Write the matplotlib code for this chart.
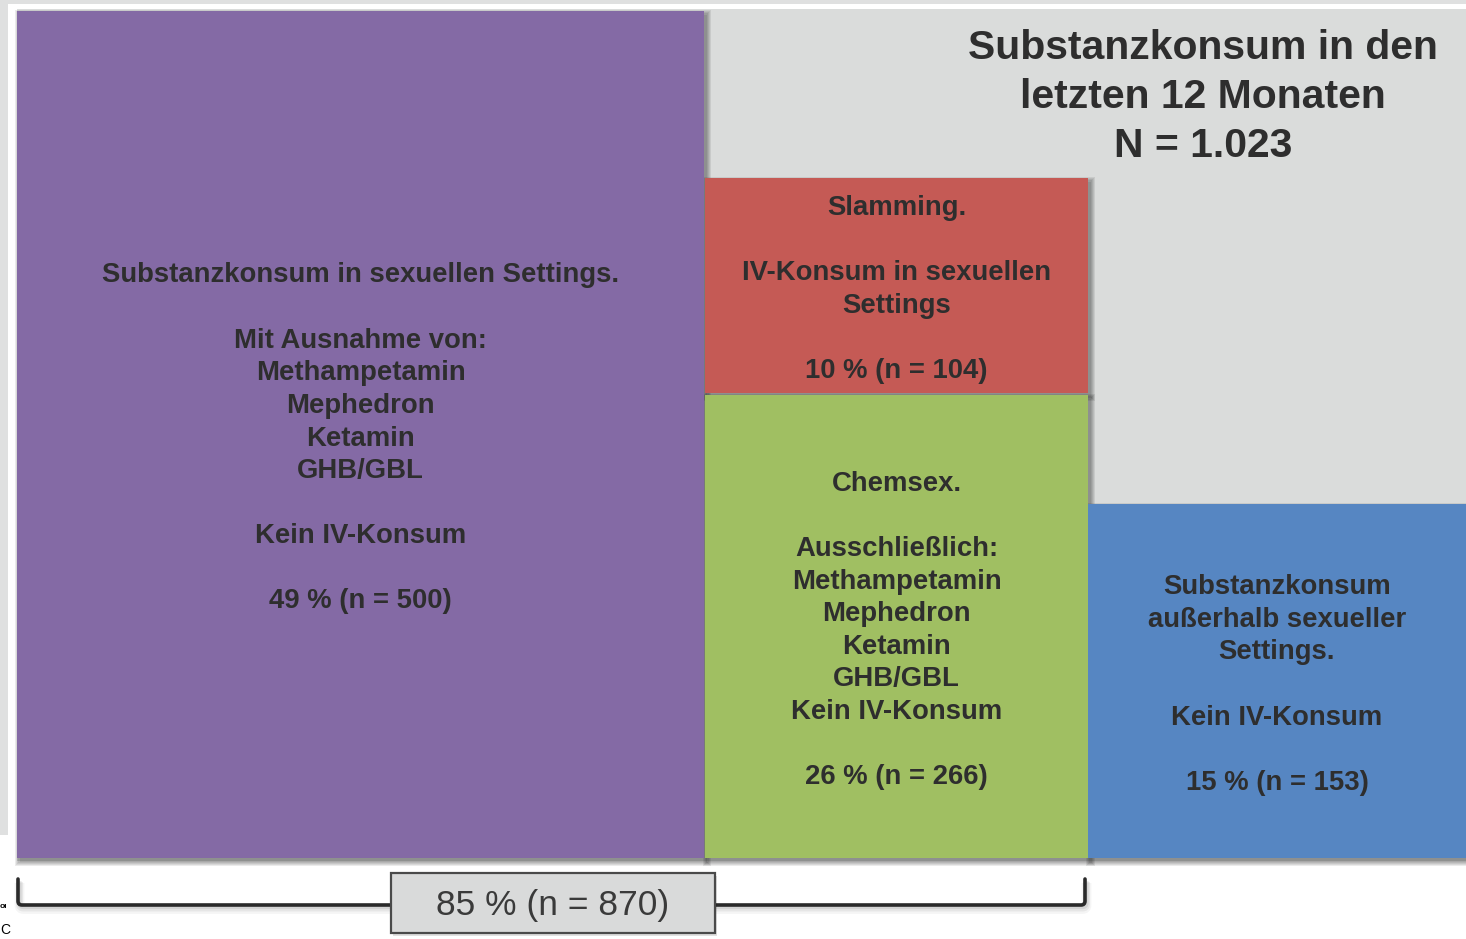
import matplotlib
matplotlib.use("Agg")
import matplotlib.pyplot as plt
from matplotlib.patches import Rectangle
from matplotlib.path import Path
from matplotlib.patches import PathPatch

# ---- data ---------------------------------------------------------------
total_n = 1023
group_counts = [500, 104, 266, 153]            # sexual settings, slamming, chemsex, outside
group_colors = ["#846aa5", "#c55a55", "#a0bf62", "#5686c2"]
group_headers = [
    ["Substanzkonsum in sexuellen Settings.", "",
     "Mit Ausnahme von:", "Methampetamin", "Mephedron", "Ketamin", "GHB/GBL", "",
     "Kein IV-Konsum", ""],
    ["Slamming.", "", "IV-Konsum in sexuellen", "Settings", ""],
    ["Chemsex.", "", "Ausschließlich:", "Methampetamin", "Mephedron", "Ketamin",
     "GHB/GBL", "Kein IV-Konsum", ""],
    ["Substanzkonsum", "außerhalb sexueller", "Settings.", "", "Kein IV-Konsum", ""],
]
sexual_groups = [0, 1, 2]                      # groups joined by the bracket
title_lines = ["Substanzkonsum in den", "letzten 12 Monaten"]


def pct_label(n):
    return f"{round(100 * n / total_n):d} % (n = {n})"


def german_thousands(n):
    return f"{n:,}".replace(",", ".")


# ---- layout (pixel coordinates, y downward) ------------------------------
W, H = 1466, 939
boxes = [                      # x0, y0, x1, y1
    (17, 11, 704, 858),
    (705, 178, 1088, 393),
    (705, 395, 1088, 858),
    (1088, 504, 1466, 858),
]
TEXT = "#2e2e2e"
BODY_FS = 19.8
LINE_STEP = 32.6

fig = plt.figure(figsize=(W / 100, H / 100), dpi=100)
fig.patch.set_facecolor("white")
ax = fig.add_axes([0, 0, 1, 1])
ax.set_xlim(0, W)
ax.set_ylim(H, 0)
ax.axis("off")

# framing background
ax.add_patch(Rectangle((0, 0), W, 835, facecolor="#dfe0e0", edgecolor="none", zorder=0))
ax.add_patch(Rectangle((8, 4), W, 860, facecolor="white", edgecolor="none", zorder=0.5))
ax.add_patch(Rectangle((17, 9), W, 852, facecolor="#dadcdb", edgecolor="none", zorder=1))


def soft_shadow(x0, y0, x1, y1, z, dx=2.5, dy=3.5, layers=5):
    for k in range(layers):
        grow = k * 1.2
        ax.add_patch(Rectangle((x0 + dx - grow, y0 + dy - grow),
                               (x1 - x0) + 2 * grow, (y1 - y0) + 2 * grow,
                               facecolor="black", edgecolor="none",
                               alpha=0.08, zorder=z))


def draw_lines(lines, cx, cy, step, fs, weight="bold", dy=4):
    n = len(lines)
    top = cy - (n - 1) * step / 2 + dy
    for i, line in enumerate(lines):
        if line:
            ax.text(cx, top + i * step, line, ha="center", va="center",
                    fontsize=fs, fontweight=weight, color=TEXT,
                    family="Liberation Sans", zorder=10)


for (x0, y0, x1, y1), color, header, n in zip(boxes, group_colors,
                                               group_headers, group_counts):
    soft_shadow(x0, y0, x1, y1, z=2)
    ax.add_patch(Rectangle((x0, y0), x1 - x0, y1 - y0, facecolor=color,
                           edgecolor="none", zorder=3))
    draw_lines(header + [pct_label(n)], (x0 + x1) / 2, (y0 + y1) / 2,
               LINE_STEP, BODY_FS)

# title in the upper right
draw_lines(title_lines + [f"N = {german_thousands(total_n)}"], 1203, 93, 49, 29.4)

# bracket below the sexual-setting groups
bx0 = boxes[sexual_groups[0]][0] + 1
bx1 = boxes[sexual_groups[-1]][2] - 3
by_top, by_bot, r = 879, 905, 4
verts = [(bx0, by_top), (bx0, by_bot - r), (bx0, by_bot), (bx0 + r, by_bot),
         (bx1 - r, by_bot), (bx1, by_bot), (bx1, by_bot - r), (bx1, by_top)]
codes = [Path.MOVETO, Path.LINETO, Path.CURVE3, Path.CURVE3,
         Path.LINETO, Path.CURVE3, Path.CURVE3, Path.LINETO]
for k, a in enumerate([0.08, 0.06, 0.04]):
    shifted = [(vx + 1.5, vy + 2 + k) for vx, vy in verts]
    ax.add_patch(PathPatch(Path(shifted, codes), facecolor="none",
                           edgecolor="black", lw=3 + 2 * k, alpha=a, zorder=4))
ax.add_patch(PathPatch(Path(verts, codes), facecolor="none", edgecolor="#2a2a2a",
                       lw=2.6, capstyle="round", zorder=5))

sexual_n = sum(group_counts[i] for i in sexual_groups)
ax.add_patch(Rectangle((393, 876), 324, 60, facecolor="black", edgecolor="none",
                       alpha=0.12, zorder=5.5))
ax.add_patch(Rectangle((391, 873), 324, 60, facecolor="#d9dada", edgecolor="#4a4a4a",
                       lw=1.6, zorder=6))
ax.text(553, 905, pct_label(sexual_n), ha="center", va="center", fontsize=25.5,
        color="#3a3a3a", family="Liberation Sans", zorder=10)

# fragments of neighbouring text at the left edge
ax.text(0, 906, "oı", ha="left", va="center", fontsize=6, fontweight="bold",
        color="black", family="Liberation Sans", zorder=10)
ax.text(0, 930, "C", ha="left", va="center", fontsize=10,
        color="black", family="Liberation Sans", zorder=10)

fig.savefig("out.png", dpi=100, facecolor=fig.get_facecolor())
